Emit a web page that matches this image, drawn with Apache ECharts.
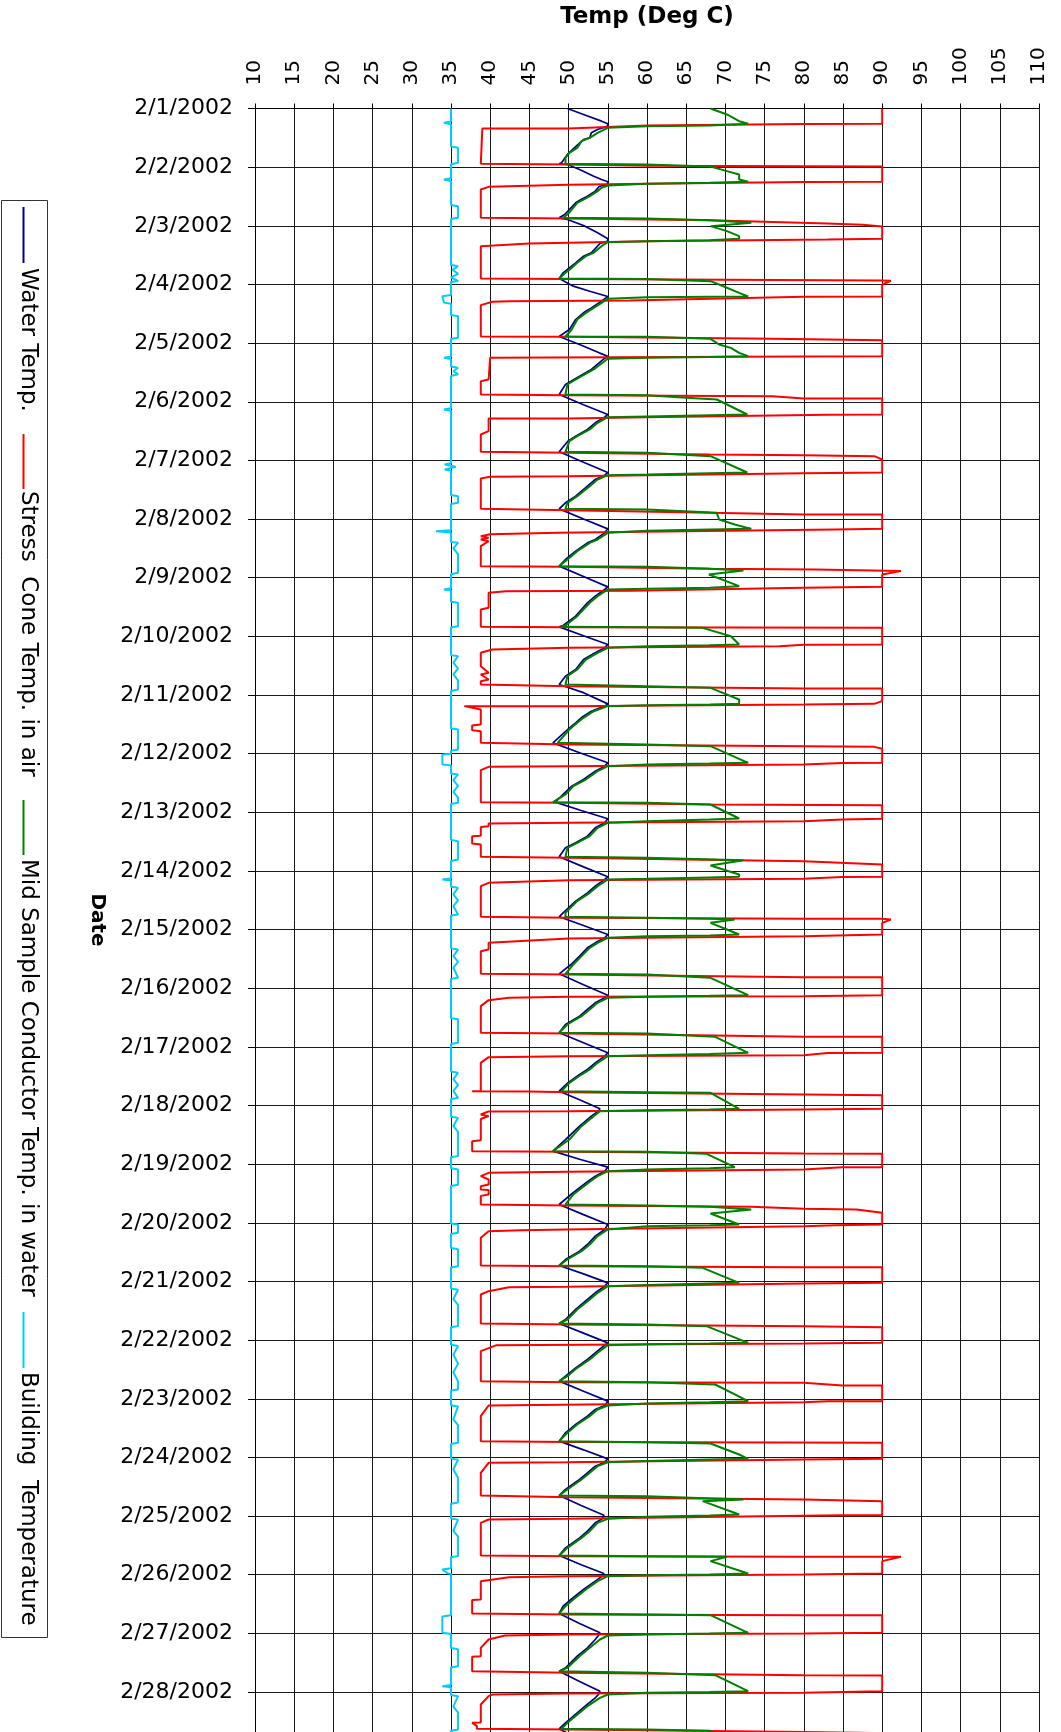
<!DOCTYPE html>
<html><head><meta charset="utf-8">
<script src="https://cdn.jsdelivr.net/npm/echarts@6/dist/echarts.min.js"></script>
<style>html,body{margin:0;padding:0;background:#fff}#c{width:1061px;height:1732px}</style>
</head><body><div id="c"></div>
<script>
// Time values are fractional days after 2/1/2002 00:00; temperatures in deg C.
const tempTickLabels = ['10','15','20','25','30','35','40','45','50','55','60','65','70','75','80','85','90','95','100','105','110'];
const dateLabels = ['2/1/2002','2/2/2002','2/3/2002','2/4/2002','2/5/2002','2/6/2002','2/7/2002','2/8/2002','2/9/2002','2/10/2002','2/11/2002','2/12/2002','2/13/2002','2/14/2002','2/15/2002','2/16/2002','2/17/2002','2/18/2002','2/19/2002','2/20/2002','2/21/2002','2/22/2002','2/23/2002','2/24/2002','2/25/2002','2/26/2002','2/27/2002','2/28/2002','3/1/2002','3/2/2002'];
const seriesNames = ['Water Temp.','Stress  Cone Temp. in air','Mid Sample Conductor Temp. in water','Building  Temperature'];

const waterTemp = [
[0,49.85],[0.102,51.9],[0.216,54.2],[0.261,55],[0.301,55],[0.358,53.7],[0.415,52.9],[0.5,52.7],[0.53,51.9],[0.65,50.9],[0.784,49.85],[0.926,49.1],[0.943,48.8],
[0.955,49.85],[1.04,51.4],[1.154,53.2],[1.211,54.2],[1.25,55],
[1.29,55],[1.33,53.9],[1.409,53.4],[1.495,52.4],[1.552,51.6],[1.608,50.9],[1.722,50.1],[1.807,49.5],[1.864,48.8],
[1.893,49.85],[1.995,51.9],[2.12,53.7],[2.222,55],
[2.262,55],[2.302,54],[2.461,52.9],[2.518,51.9],[2.631,50.9],[2.717,50.1],[2.802,49.3],[2.899,48.8],
[3.029,50.6],[3.115,52.7],[3.205,55],
[3.245,54.6],[3.313,53.9],[3.399,52.9],[3.484,51.9],[3.598,50.9],[3.768,50.1],[3.887,48.8],
[4.024,51.4],[4.166,53.9],[4.223,55],
[4.268,54.5],[4.45,52.9],[4.564,51.4],[4.706,49.6],[4.876,48.8],
[5.05,51.9],[5.217,55],
[5.263,54.6],[5.359,53.4],[5.473,52.4],[5.587,50.9],[5.672,49.9],[5.854,48.8],
[6.03,51.9],[6.206,55],
[6.252,54.6],[6.326,53.4],[6.439,52.4],[6.61,50.9],[6.723,49.6],[6.826,48.8],
[7.0,51.9],[7.167,55],
[7.235,54.6],[7.349,53.4],[7.406,52.4],[7.548,50.9],[7.69,49.6],[7.803,48.8],
[7.98,51.9],[8.156,55],
[8.201,54.6],[8.315,53.4],[8.428,52.4],[8.656,50.9],[8.815,49.3],[8.838,48.8],
[8.99,51.9],[9.139,55],
[9.196,54.6],[9.281,53.4],[9.395,51.9],[9.565,50.9],[9.679,49.6],[9.821,48.8],
[9.96,51.9],[10.151,55],
[10.19,54.6],[10.276,52.9],[10.389,51.6],[10.474,50.9],[10.588,49.9],[10.816,48.0],
[10.99,51.5],[11.156,55],
[11.213,54.6],[11.299,53.4],[11.441,51.9],[11.554,50.4],[11.696,49.3],[11.827,48.3],
[11.97,51.6],[12.111,55],
[12.179,54.6],[12.265,53.4],[12.407,52.4],[12.52,50.9],[12.606,49.6],[12.759,48.8],
[12.93,51.9],[13.1,55],
[13.146,54.6],[13.259,53.4],[13.373,52.4],[13.515,50.9],[13.714,49.3],[13.782,48.8],
[13.93,51.9],[14.084,55],
[14.14,54.6],[14.226,53.4],[14.311,52.4],[14.453,51.4],[14.595,50.3],[14.754,48.8],
[14.94,51.9],[15.118,55],
[15.163,54.6],[15.249,53.4],[15.362,52.4],[15.476,51.4],[15.618,49.6],[15.76,48.8],
[15.93,51.9],[16.101,55],
[16.158,54.6],[16.272,53.4],[16.385,52.4],[16.471,51.4],[16.613,49.9],[16.755,48.8],
[16.9,51.4],[17.056,54],
[17.096,53.8],[17.181,52.9],[17.352,51.4],[17.579,49.6],[17.778,48.0],
[17.92,51.5],[18.051,55],
[18.119,54.6],[18.204,53.4],[18.3,52.4],[18.517,50.3],[18.687,48.8],
[18.86,51.9],[19.028,55],
[19.113,54.6],[19.227,53.4],[19.369,52.4],[19.483,51.4],[19.625,49.6],[19.727,48.8],
[19.87,51.9],[20.023,55],
[20.08,54.6],[20.193,53.4],[20.307,52.4],[20.477,50.9],[20.648,49.6],[20.716,48.8],
[20.88,51.9],[21.046,55],
[21.085,54.6],[21.216,53.4],[21.33,52.4],[21.472,50.9],[21.614,49.6],[21.699,48.8],
[21.87,51.9],[22.04,55],
[22.114,54.6],[22.182,53.4],[22.296,52.4],[22.438,50.9],[22.58,49.6],[22.722,48.8],
[22.87,51.9],[23.024,55],
[23.081,54.6],[23.149,53.4],[23.262,52.4],[23.376,51.4],[23.546,49.6],[23.649,48.8],
[23.82,51.6],[23.984,54.5],
[24.047,54.3],[24.115,53.4],[24.257,52.4],[24.371,51.4],[24.541,49.6],[24.672,48.8],
[24.83,51.6],[24.979,54.5],
[25.024,54.3],[25.109,53.4],[25.252,51.9],[25.422,50.3],[25.536,49.3],[25.661,48.8],
[25.83,51.4],[25.99,54],
[26.036,53.8],[26.104,53.4],[26.246,52.4],[26.388,51.1],[26.587,49.6],[26.644,48.8],
[26.82,51.4],[26.985,54],
[27.042,53.8],[27.099,53.4],[27.241,52.1],[27.354,51.1],[27.525,49.6],[27.627,48.8],
[27.75,50.5],[27.85,51.5]
];

const stressCone = [
[0,90],[0.261,90],[0.263,80],[0.29,60],[0.341,50],[0.341,39.0],[0.358,38.8],
[0.943,38.8],[0.955,50],[0.975,60],[0.989,90],
[1.25,90],[1.255,80],[1.284,60],[1.3,50],[1.336,39.8],[1.381,38.8],
[1.864,38.8],[1.876,50],[1.904,68],[1.961,83],[1.983,87.5],[2.012,90],
[2.222,90],[2.234,83],[2.262,60],[2.302,45],[2.347,38.8],
[2.899,38.8],[2.905,50],[2.933,90],[2.937,91.1],[3.001,90],
[3.205,90],[3.21,80],[3.274,57.8],[3.285,42.4],[3.296,40.3],[3.353,38.8],
[3.887,38.8],[3.89,50],[3.927,75.9],[3.95,90],
[4.223,90],[4.23,80],[4.251,40],[4.262,39.8],[4.621,39.8],[4.649,38.8],
[4.876,38.8],[4.888,50],[4.905,76],[4.945,80],[4.945,90],
[5.217,90],[5.22,83],[5.263,60],[5.286,50],[5.286,39.8],[5.502,39.8],[5.558,38.8],
[5.854,38.8],[5.871,50],[5.899,68],[5.911,80],[5.928,89],[5.985,90],
[6.206,90],[6.218,80],[6.24,68],[6.252,60],[6.269,50],[6.28,40],[6.309,38.8],
[6.826,38.8],[6.849,50],[6.894,68],[6.922,80],[6.922,90],
[7.167,90],[7.178,84],[7.235,48.6],[7.258,40],[7.292,38.8],[7.32,39.8],[7.349,38.8],[7.377,39.8],[7.462,38.8],
[7.803,38.8],[7.815,50],[7.849,68],[7.86,81.5],[7.885,92.4],[7.946,90],
[8.156,90],[8.17,80],[8.224,58],[8.23,42],[8.258,39.8],[8.514,39.8],[8.542,38.8],
[8.838,38.8],[8.845,50],[8.855,90],
[9.139,90],[9.142,80],[9.167,76.9],[9.196,50],[9.224,40.3],[9.281,38.8],[9.508,38.8],[9.622,39.8],[9.65,38.8],[9.736,39.8],[9.764,38.8],
[9.821,38.8],[9.849,50],[9.889,80],[9.889,90],
[10.105,90],[10.151,89],[10.162,80],[10.19,50],[10.19,36.7],[10.247,38.8],[10.503,38.8],[10.52,37.7],[10.6,37.7],[10.617,38.8],
[10.816,38.8],[10.844,50],[10.872,80],[10.884,89],[10.918,90],
[11.156,90],[11.158,84.9],[11.185,80],[11.213,50],[11.225,39.8],[11.282,38.8],
[11.827,38.8],[11.838,50],[11.867,68],[11.878,90],
[12.111,90],[12.123,84.9],[12.151,80],[12.179,50],[12.191,39.8],[12.236,39.8],[12.25,38.8],[12.4,38.8],[12.41,37.7],[12.532,37.7],[12.549,38.8],
[12.759,38.8],[12.776,50],[12.833,80],[12.89,90],
[13.1,90],[13.102,84.9],[13.134,80],[13.157,50],[13.203,39.8],[13.259,38.8],
[13.782,38.8],[13.799,50],[13.816,80],[13.816,90],[13.828,91.1],[13.885,90],
[14.084,90],[14.112,80],[14.152,50],[14.226,39.8],[14.339,39.8],[14.368,38.8],
[14.754,38.8],[14.766,50],[14.811,80],[14.811,90],
[15.118,90],[15.135,80],[15.146,50],[15.163,42.4],[15.203,39.8],[15.305,38.8],
[15.76,38.8],[15.772,50],[15.828,80],[15.828,90],
[16.101,90],[16.103,83],[16.141,80],[16.158,50],[16.175,39.8],[16.272,38.8],[16.75,38.8],[16.755,37.7],[16.762,45],[16.772,50],[16.823,90],
[17.056,90],[17.067,80],[17.096,50],[17.1,39.8],[17.153,38.8],[17.181,39.8],[17.209,39.8],[17.23,38.8],[17.59,38.8],[17.607,37.7],[17.778,37.7],
[17.789,50],[17.817,80],[17.823,90],
[18.051,90],[18.053,84.9],[18.091,80],[18.13,50],[18.147,39.8],[18.204,38.8],[18.261,39.8],[18.346,39.8],[18.375,38.8],[18.431,38.8],[18.44,39.8],[18.517,39.8],[18.54,38.8],
[18.687,38.8],[18.704,50],[18.727,73.3],[18.761,80],[18.772,86.7],[18.829,90],
[19.028,90],[19.04,84],[19.057,80],[19.115,49.8],[19.125,43.9],[19.142,39.8],[19.255,38.8],
[19.727,38.8],[19.739,50],[19.756,80],[19.756,90],
[20.023,90],[20.034,80],[20.091,49.8],[20.097,42.4],[20.165,39.8],[20.222,38.8],
[20.716,38.8],[20.733,50],[20.762,80],[20.779,90],
[21.046,90],[21.057,80],[21.085,40.8],[21.188,38.8],
[21.699,38.8],[21.716,50],[21.728,80],[21.773,84.9],[21.773,90],
[22.04,90],[22.042,83],[22.057,80],[22.114,39.8],[22.296,38.8],
[22.722,38.8],[22.735,50],[22.751,90],
[23.024,90],[23.035,80],[23.081,49.8],[23.092,39.8],[23.262,38.8],
[23.649,38.8],[23.677,50],[23.717,80],[23.745,90],
[23.984,90],[23.986,84.9],[24.047,49.8],[24.058,39.8],[24.115,38.8],
[24.672,38.8],[24.683,50],[24.694,80],[24.694,92.4],[24.768,90],
[24.979,90],[24.996,80],[25.024,49.8],[25.041,42.4],[25.109,38.8],[25.42,38.8],[25.43,37.7],[25.661,37.7],
[25.678,50],[25.689,80],[25.689,90],
[25.99,90],[26.002,80],[26.019,49.8],[26.036,41.9],[26.104,39.8],[26.246,38.8],[26.388,38.8],[26.4,37.7],[26.644,37.7],
[26.672,50],[26.712,80],[26.718,90],
[26.985,90],[27.013,80],[27.025,49.8],[27.042,40.3],[27.07,39.8],[27.212,38.8],[27.52,38.8],[27.525,37.7],[27.553,37.7],[27.58,38.3],[27.627,38.3],
[27.64,50],[27.68,80],[27.7,90],[28.0,90]
];

const midSample = [
[0,68.1],[0.102,70.2],[0.216,71.75],[0.261,72.9],[0.29,68],[0.301,60],[0.33,55],
[0.415,53.7],[0.5,52.7],[0.557,51.65],[0.671,51.1],[0.756,50.1],[0.841,49.6],[0.943,49.6],
[0.955,60],[0.989,68.1],[1.068,70.2],[1.125,71.75],[1.211,71.75],[1.25,72.9],
[1.267,68],[1.284,60],[1.313,55],
[1.353,54.2],[1.409,53.7],[1.495,52.7],[1.552,51.9],[1.608,51.1],[1.722,50.4],[1.807,49.85],[1.864,49.3],
[1.876,60],[1.904,68.1],[1.949,73.3],[2.006,68.1],[2.091,70.2],[2.177,71.75],[2.222,71.75],
[2.245,68],[2.262,60],[2.279,55],
[2.347,54.2],[2.461,53.2],[2.518,52.2],[2.631,51.1],[2.717,50.4],[2.802,49.6],[2.899,48.8],
[2.905,60],[2.944,68.1],[3.001,69.2],[3.143,71.75],[3.205,72.9],
[3.21,68],[3.22,60],[3.245,55],
[3.313,54.2],[3.399,53.2],[3.484,52.2],[3.598,51.1],[3.768,50.4],[3.887,49.6],
[3.89,60],[3.927,68.1],[4.024,69.2],[4.081,70.7],[4.166,71.75],[4.223,72.9],
[4.235,68],[4.25,60],[4.268,55],
[4.45,53.2],[4.564,51.65],[4.706,49.85],[4.876,49.6],
[4.888,60],[4.933,65],[4.962,68.9],[5.217,72.8],
[5.23,68],[5.25,60],[5.263,55],
[5.359,53.7],[5.473,52.7],[5.587,51.1],[5.672,50.1],[5.854,49.6],
[5.871,60],[5.928,68.1],[6.206,72.8],
[6.218,68],[6.24,60],[6.252,55],
[6.326,53.7],[6.439,52.7],[6.61,51.1],[6.723,49.85],[6.826,49.6],
[6.837,60],[6.894,68.9],[7.008,69.2],[7.093,71.2],[7.167,73.3],
[7.178,68],[7.2,60],[7.235,55],
[7.349,53.7],[7.406,52.7],[7.548,51.1],[7.69,49.85],[7.803,48.8],
[7.815,60],[7.849,68.1],[7.877,72.3],[7.946,67.9],[8.144,71.75],[8.156,71.75],
[8.17,68],[8.19,60],[8.201,55],
[8.315,53.7],[8.428,52.7],[8.656,51.1],[8.815,49.6],[8.838,49.1],
[8.845,60],[8.855,67.1],[8.997,70.7],[9.139,71.75],
[9.15,68],[9.167,60],[9.196,55],
[9.281,53.7],[9.395,52.2],[9.565,51.1],[9.679,49.85],[9.821,49.6],
[9.849,60],[9.878,68.1],[10.077,71.75],[10.151,71.75],
[10.162,68],[10.175,60],[10.19,55],
[10.276,53.2],[10.389,51.9],[10.474,51.1],[10.588,50.1],[10.816,48.6],
[10.844,60],[10.872,68.1],[11.156,72.9],
[11.168,68],[11.185,60],[11.213,55],
[11.299,53.7],[11.441,52.2],[11.554,50.6],[11.696,49.6],[11.827,48.0],
[11.838,60],[11.867,68.1],[12.106,71.75],
[12.123,68],[12.151,60],[12.179,55],
[12.265,53.7],[12.407,52.7],[12.52,51.1],[12.606,49.85],[12.759,49.6],
[12.776,60],[12.816,72.3],[12.907,68.1],[13.06,71.75],[13.1,71.75],
[13.11,68],[13.134,60],[13.146,55],
[13.259,53.7],[13.373,52.7],[13.515,51.1],[13.714,49.6],[13.782,49.6],
[13.799,60],[13.816,68],[13.828,71.2],[13.885,68.1],[13.998,70.2],[14.084,71.75],
[14.1,68],[14.112,60],[14.14,55],
[14.226,53.7],[14.311,52.7],[14.453,51.65],[14.595,50.6],[14.754,49.6],
[14.766,60],[14.822,68.1],[15.118,72.9],
[15.13,68],[15.146,60],[15.163,55],
[15.249,53.7],[15.362,52.7],[15.476,51.65],[15.618,49.85],[15.76,48.8],
[15.772,60],[15.828,68.7],[16.101,72.9],
[16.12,68],[16.141,60],[16.158,55],
[16.272,53.7],[16.385,52.7],[16.471,51.65],[16.613,50.1],[16.755,49.1],
[16.772,60],[16.783,68.1],[17.056,71.75],
[17.067,68],[17.08,60],[17.096,54],
[17.181,53.2],[17.352,51.65],[17.579,50.1],[17.778,48.0],
[17.789,60],[17.823,67.6],[18.051,71.2],
[18.07,68],[18.091,60],[18.119,55],
[18.204,53.7],[18.3,52.7],[18.517,50.6],[18.687,49.6],
[18.704,60],[18.727,68],[18.772,73.3],[18.841,68.1],[19.028,71.75],
[19.04,68],[19.06,60],[19.113,55],
[19.227,53.7],[19.369,52.7],[19.483,51.65],[19.625,49.85],[19.727,48.8],
[19.739,60],[19.767,67.1],[20.023,71.75],
[20.034,68],[20.06,60],[20.08,55],
[20.193,53.7],[20.307,52.7],[20.477,51.1],[20.648,49.85],[20.716,48.8],
[20.733,60],[20.762,67.6],[21.046,72.9],
[21.057,68],[21.07,60],[21.085,55],
[21.216,53.7],[21.33,52.7],[21.472,51.1],[21.614,49.85],[21.699,48.8],
[21.716,60],[21.756,68.7],[22.04,72.9],
[22.057,68],[22.08,60],[22.114,55],
[22.182,53.7],[22.296,52.7],[22.438,51.1],[22.58,49.85],[22.722,48.8],
[22.74,60],[22.762,68.1],[22.95,71.75],[23.024,72.9],
[23.035,68],[23.06,60],[23.081,55],
[23.149,53.7],[23.262,52.7],[23.376,51.65],[23.546,49.85],[23.649,48.8],
[23.66,60],[23.717,72.3],[23.745,67.1],[23.973,71.75],
[23.99,68],[24.01,60],[24.047,55],
[24.115,53.7],[24.257,52.7],[24.371,51.65],[24.541,49.85],[24.672,48.8],
[24.683,60],[24.694,70.2],[24.768,68.1],[24.979,72.9],
[24.996,68],[25.01,60],[25.024,55],
[25.109,53.7],[25.252,52.2],[25.422,50.6],[25.536,49.6],[25.661,48.8],
[25.678,60],[25.689,68.1],[25.99,72.9],
[26.002,68],[26.019,60],[26.036,55],
[26.104,54],[26.246,52.7],[26.388,51.4],[26.587,49.85],[26.644,48.8],
[26.672,60],[26.712,68.7],[26.985,72.9],
[27.0,68],[27.013,60],[27.042,55],
[27.099,54],[27.241,52.4],[27.354,51.4],[27.525,49.85],[27.627,49.1],
[27.64,60],[27.66,68],[27.8,70]
];

const buildingTemp = [
[0,35],[0.22,35],[0.244,34.1],[0.27,35],[0.65,35],[0.671,35.9],[0.926,35.9],[0.95,35],
[1.19,35],[1.211,34.1],[1.235,35],[1.645,35],[1.665,35.9],[1.864,35.9],[1.885,35],
[2.67,35],[2.69,35.9],[2.75,35.2],[2.82,35.9],[2.88,35],[2.94,35.9],[2.96,35],
[3.18,35],[3.2,33.9],[3.31,34.1],[3.33,35],
[3.52,35],[3.54,35.9],[3.91,35.9],[3.93,35],
[4.23,35],[4.25,34.1],[4.27,35],[4.4,35],[4.42,35.9],[4.48,35.3],[4.53,35.9],[4.56,35],
[5.11,35],[5.132,34.1],[5.155,35],
[6.05,35],[6.07,34.2],[6.11,35.6],[6.155,34.2],[6.175,35],
[6.59,35],[6.61,35.9],[6.723,35.9],[6.745,35],
[7.19,35],[7.207,33.1],[7.23,35],
[7.39,35],[7.406,35.9],[7.5,35.3],[7.6,35.9],[7.917,35.9],[7.94,35],
[8.18,35],[8.201,34.1],[8.22,35],
[8.41,35],[8.428,35.9],[8.826,35.9],[8.85,35],
[9.32,35],[9.338,35.9],[9.45,35.3],[9.55,35.9],[9.65,35.3],[9.75,35.9],[9.906,35.9],[9.93,35],
[10.57,35],[10.588,35.9],[10.929,35.9],[10.95,35],
[11.0,35],[11.014,33.9],[11.185,33.9],[11.2,35],
[11.34,35],[11.355,35.9],[11.45,35.3],[11.55,35.9],[11.65,35.3],[11.75,35.9],[11.838,35.9],[11.86,35],
[12.47,35],[12.492,35.9],[12.805,35.9],[12.83,35],
[13.13,35],[13.146,33.9],[13.165,35],
[13.27,35],[13.288,35.9],[13.4,35.3],[13.5,35.9],[13.6,35.3],[13.743,35.9],[13.76,35],
[14.32,35],[14.34,35.9],[14.45,35.3],[14.55,35.9],[14.65,35.3],[14.82,35.9],[14.84,35],
[15.51,35],[15.53,35.9],[15.93,35.9],[15.95,35],
[16.42,35],[16.44,35.9],[16.55,35.3],[16.65,35.9],[16.75,35.3],[16.87,35.9],[16.89,35],
[17.19,35],[17.21,35.9],[17.35,35.3],[17.45,35.9],[17.86,35.9],[17.88,35],
[18.07,35],[18.09,35.9],[18.35,35.9],[18.37,35],
[19.01,35],[19.03,35.9],[19.17,35.9],[19.19,35],
[19.43,35],[19.45,35.9],[19.74,35.9],[19.76,35],
[20.12,35],[20.14,35.9],[20.3,35.3],[20.4,35.9],[20.76,35.9],[20.78,35],
[21.08,35],[21.1,35.9],[21.25,35.3],[21.4,35.9],[21.55,35.3],[21.7,35.9],[21.84,35.9],[21.86,35],
[22.11,35],[22.13,35.9],[22.35,35.3],[22.45,35.9],[22.75,35.9],[22.77,35],
[23.02,35],[23.04,35.9],[23.2,35.3],[23.35,35.9],[23.77,35.9],[23.79,35],
[24.04,35],[24.06,35.9],[24.25,35.3],[24.35,35.9],[24.68,35.9],[24.7,35],
[24.89,35],[24.91,33.9],[24.97,34.5],[24.99,35],
[25.69,35],[25.71,33.9],[25.99,33.9],[26.01,35],
[26.25,35],[26.27,35.9],[26.56,35.9],[26.58,35],
[26.88,35],[26.9,33.9],[26.92,35],
[27.05,35],[27.07,35.9],[27.25,35.3],[27.35,35.9],[27.64,35.9],[27.66,35],[28.0,35]
];

const FONT = '"DejaVu Sans", "Liberation Sans", Arial, sans-serif';
const colors = ['#000080', '#FF0000', '#008000', '#00CCFF'];
const toXY = arr => arr.map(p => [p[1], p[0]]);

const chart = echarts.init(document.getElementById('c'), null, {renderer: 'canvas'});

function legendItem(i, lineY0, lineY1, textY) {
  return [
    {type: 'line', shape: {x1: 23.5, y1: lineY0, x2: 23.5, y2: lineY1}, style: {stroke: colors[i], lineWidth: 2}},
    {type: 'text', x: 28, y: textY, rotation: -Math.PI / 2,
     style: {text: seriesNames[i], fontSize: 23, fontFamily: FONT, fill: '#000', textAlign: 'left', textVerticalAlign: 'middle'}}
  ];
}

const option = {
  animation: false,
  backgroundColor: '#ffffff',
  grid: {left: 255, top: 108.5, width: 784, height: 29 * 58.65, containLabel: false, outerBoundsMode: 'none', show: false},
  xAxis: {
    type: 'value', position: 'top', min: 10, max: 110, interval: 5,
    axisLine: {show: true, onZero: false, lineStyle: {color: '#000', width: 1}},
    axisTick: {show: true, inside: false, length: 5, lineStyle: {color: '#000', width: 1}},
    axisLabel: {show: true, rotate: -90, margin: 23, fontSize: 20, fontFamily: FONT, color: '#000',
      showMinLabel: true, showMaxLabel: true, hideOverlap: false,
      formatter: v => tempTickLabels[Math.round((v - 10) / 5)]},
    splitLine: {show: true, lineStyle: {color: '#1a1a1a', width: 1}}
  },
  yAxis: {
    type: 'value', inverse: true, min: 0, max: 29, interval: 1,
    axisLine: {show: true, onZero: false, lineStyle: {color: '#000', width: 1}},
    axisTick: {show: true, inside: false, length: 7, lineStyle: {color: '#000', width: 1}},
    axisLabel: {show: true, margin: 22, fontSize: 22, fontFamily: FONT, color: '#000',
      showMinLabel: true, showMaxLabel: true, hideOverlap: false,
      formatter: v => dateLabels[Math.round(v)]},
    splitLine: {show: true, lineStyle: {color: '#1a1a1a', width: 1}}
  },
  series: [
    {name: seriesNames[0], type: 'line', data: toXY(waterTemp), showSymbol: false, symbol: 'none',
     lineStyle: {color: colors[0], width: 1.7}, itemStyle: {color: colors[0]}, z: 2},
    {name: seriesNames[1], type: 'line', data: toXY(stressCone), showSymbol: false, symbol: 'none',
     lineStyle: {color: colors[1], width: 2}, itemStyle: {color: colors[1]}, z: 3},
    {name: seriesNames[2], type: 'line', data: toXY(midSample), showSymbol: false, symbol: 'none',
     lineStyle: {color: colors[2], width: 2}, itemStyle: {color: colors[2]}, z: 4},
    {name: seriesNames[3], type: 'line', data: toXY(buildingTemp), showSymbol: false, symbol: 'none',
     lineStyle: {color: colors[3], width: 2}, itemStyle: {color: colors[3]}, z: 5}
  ],
  graphic: [
    {type: 'text', x: 647, y: 17, style: {text: 'Temp (Deg C)', fontSize: 23, fontWeight: 'bold', fontFamily: FONT, fill: '#000', textAlign: 'center', textVerticalAlign: 'middle'}},
    {type: 'text', x: 97, y: 920, rotation: -Math.PI / 2, style: {text: 'Date', fontSize: 20, fontWeight: 'bold', fontFamily: FONT, fill: '#000', textAlign: 'center', textVerticalAlign: 'middle'}},
    {type: 'rect', shape: {x: 1.5, y: 200.5, width: 46, height: 1437}, style: {fill: '#fff', stroke: '#333', lineWidth: 1}},
    ...legendItem(0, 207, 263, 268),
    ...legendItem(1, 434, 489, 491),
    ...legendItem(2, 800, 855, 859),
    ...legendItem(3, 1312, 1368, 1372)
  ]
};
chart.setOption(option);
</script>
</body></html>
